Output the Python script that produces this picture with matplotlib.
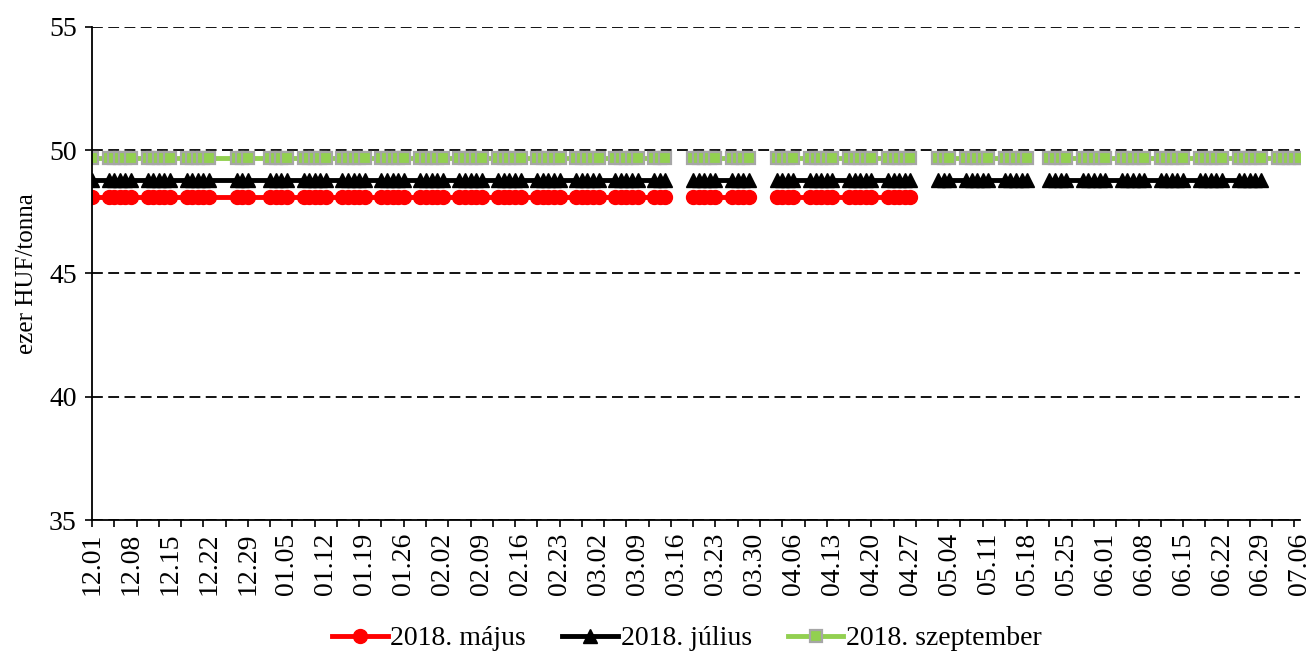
import matplotlib
matplotlib.use('Agg')
import matplotlib.pyplot as plt
import matplotlib.dates as mdates
import numpy as np
import pandas as pd

plt.rcParams['font.family'] = ['Liberation Serif', 'DejaVu Serif']

# trading window shown on the axis
first_day = '2017-12-01'
last_day = '2018-07-06'

# days with no row at all (line is drawn straight through)
skipped_days = ['2017-12-25', '2017-12-26', '2018-01-01']
# days with an empty row (line breaks)
blank_days = ['2018-03-15', '2018-03-16', '2018-03-30', '2018-04-02',
              '2018-04-30', '2018-05-01', '2018-05-21']

series_names = ['2018. május', '2018. július', '2018. szeptember']
series_levels = [48.1, 48.8, 49.7]          # ezer HUF/tonna
series_last_day = ['2018-04-27', '2018-06-29', '2018-07-06']

y_ticks = [35, 40, 45, 50, 55]

styles = [
    dict(color='#FF0000', marker='o', markersize=10, markerfacecolor='#FF0000',
         markeredgecolor='#FF0000', lw=3.5),
    dict(color='#000000', marker='^', markersize=10, markerfacecolor='#000000',
         markeredgecolor='#000000', lw=3.5),
    dict(color='#92D050', marker='s', markersize=9, markerfacecolor='#92D050',
         markeredgecolor='#A6A6A6', markeredgewidth=1.6, lw=3.5),
]

days = pd.bdate_range(first_day, last_day)
days = days[~days.isin(pd.to_datetime(skipped_days))]
blank = days.isin(pd.to_datetime(blank_days))

fig = plt.figure(figsize=(13.16, 6.55), dpi=100)
ax = fig.add_axes([0.0699, 0.2061, 0.9179, 0.7527])

for name, level, end, st in zip(series_names, series_levels, series_last_day, styles):
    keep = days <= pd.Timestamp(end)
    vals = np.where(blank[keep], np.nan, level)
    ax.plot(days[keep], vals, label=name, **st)

ax.set_xlim(pd.Timestamp(first_day), pd.Timestamp(last_day))
ax.set_ylim(35, 55)
ax.set_yticks(y_ticks)
ax.yaxis.grid(True, linestyle=(0, (6, 3)), color='black', lw=1.3)
ax.set_axisbelow(True)

# tick marks every 4 days, labels every 7 days
ax.xaxis.remove_overlapping_locs = False
ax.xaxis.set_major_locator(matplotlib.ticker.FixedLocator(
    mdates.date2num(pd.date_range(first_day, last_day, freq='4D'))))
ax.xaxis.set_major_formatter(matplotlib.ticker.NullFormatter())
ax.xaxis.set_minor_locator(matplotlib.ticker.FixedLocator(
    mdates.date2num(pd.date_range(first_day, last_day, freq='7D'))))
ax.xaxis.set_minor_formatter(mdates.DateFormatter('%m.%d'))
ax.tick_params(axis='x', which='major', length=5, width=1.2, direction='out')
ax.tick_params(axis='x', which='minor', length=0, labelsize=20, rotation=90, pad=9)
ax.tick_params(axis='y', length=5, width=1.2, labelsize=20, pad=6)

for s in ('top', 'right'):
    ax.spines[s].set_visible(False)
for s in ('left', 'bottom'):
    ax.spines[s].set_linewidth(1.3)

ax.set_ylabel('ezer HUF/tonna', fontsize=18, labelpad=8)

fig.legend(loc='center', bbox_to_anchor=(0.522, 0.025), ncol=3, frameon=False,
           fontsize=20, handlelength=2.0, handletextpad=0.1, columnspacing=1.3)

fig.savefig('out.png', dpi=100)
